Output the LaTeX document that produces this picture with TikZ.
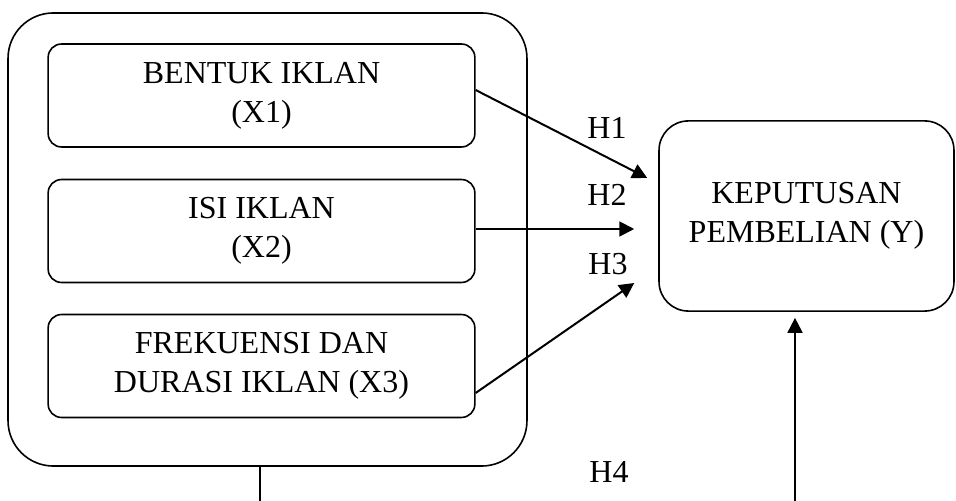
\documentclass[tikz,border=0pt]{standalone}
\usepackage{fontspec}
\setmainfont{Liberation Serif}
\usepackage{tikz}
\usetikzlibrary{positioning, arrows.meta}

\begin{document}
\begin{tikzpicture}[
    x=0.375pt, y=-0.375pt,
    varbox/.style={rectangle, draw, rounded corners=5pt, line width=0.6pt, minimum width=160pt, minimum height=38.6pt, text centered, align=center, font=\fontsize{12}{14.6}\selectfont},
    hlabel/.style={font=\fontsize{12}{14.6}\selectfont},
    arrow/.style={-{Triangle[length=5.6pt, width=5.6pt]}, line width=0.75pt}
]
    \useasboundingbox (0,0) rectangle (956,501);

    % Group of independent variables
    \node[draw, rounded corners=17pt, line width=0.6pt, minimum width=194.6pt, minimum height=169.9pt] (group) at (267.5,239.5) {};
    \node[varbox] (x1) at (261.5,95.5) {BENTUK IKLAN\\(X1)};
    \node[varbox] (x2) at (261.5,231) {ISI IKLAN\\(X2)};
    \node[varbox] (x3) at (261.5,366) {FREKUENSI DAN\\DURASI IKLAN (X3)};

    % Dependent variable
    \node[varbox, rounded corners=11pt, minimum width=110.6pt, minimum height=71.3pt] (y) at (806.5,216) {KEPUTUSAN\\PEMBELIAN (Y)};

    % Hypotheses
    \draw[arrow] ([shift={(0,-5.5)}]x1.east) -- ([shift={(-11,-38)}]y.west);
    \draw[arrow] ([shift={(0,-2)}]x2.east) -- ([shift={(-24,13)}]y.west);
    \draw[arrow] ([shift={(0,27)}]x3.east) -- ([shift={(-24,67)}]y.west);
    \coordinate (g4) at (260,501);
    \coordinate (y4) at (795,501);
    \draw[line width=0.6pt] (group.south -| g4) -- (g4);
    \draw[arrow] (y4) -- ([shift={(0,6)}]y.south -| y4);

    % Labels
    \node[hlabel] (h1) at (607,128) {H1};
    \node[hlabel] (h2) at (607,195) {H2};
    \node[hlabel] (h3) at (608,264) {H3};
    \node[hlabel] (h4) at (609,472) {H4};
\end{tikzpicture}
\end{document}
